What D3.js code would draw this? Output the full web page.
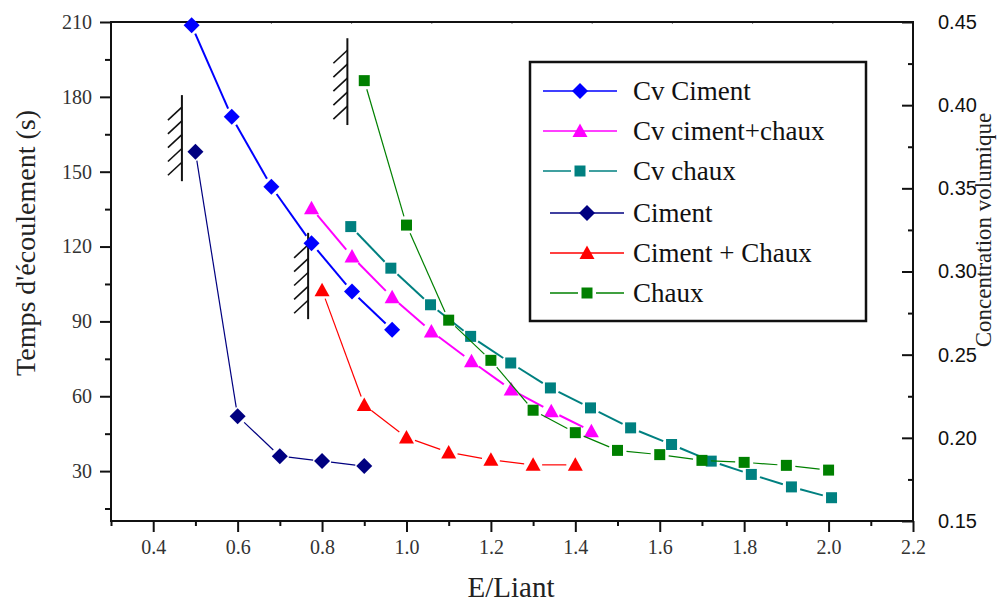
<!DOCTYPE html>
<html>
<head>
<meta charset="utf-8">
<script src="https://cdn.jsdelivr.net/npm/d3@7"></script>
<style>
  body { margin: 0; background: #fff; }
</style>
</head>
<body>
<div id="chart"></div>
<script>
// values
// Cv series use the right axis (concentration volumique)
var cvCimentX = [0.491, 0.586, 0.680, 0.775, 0.871, 0.966];
var cvCimentY = [0.448, 0.393, 0.351, 0.317, 0.288, 0.265];

var cvCimentChauxX = [0.775, 0.871, 0.966, 1.059, 1.154, 1.248, 1.343, 1.438];
var cvCimentChauxY = [0.338, 0.309, 0.2845, 0.264, 0.246, 0.229, 0.216, 0.204];

var cvChauxX = [0.868, 0.963, 1.057, 1.152, 1.247, 1.341, 1.436, 1.531, 1.628, 1.722, 1.817, 1.912, 2.007];
var cvChauxY = [0.327, 0.302, 0.280, 0.261, 0.245, 0.230, 0.218, 0.206, 0.196, 0.186, 0.178, 0.1705, 0.164];

// left axis series (temps d'écoulement)
var cimentX = [0.5, 0.6, 0.7, 0.8, 0.9];
var cimentY = [158, 52, 36, 34, 32];

var cimentChauxX = [0.8, 0.9, 1.0, 1.1, 1.2, 1.3, 1.4];
var cimentChauxY = [102.5, 56.5, 43.5, 37.5, 34.5, 32.5, 32.5];

var chauxX = [0.9, 1.0, 1.1, 1.2, 1.3, 1.4, 1.5, 1.6, 1.7, 1.8, 1.9, 2.0];
var chauxY = [186.5, 128.6, 90.5, 74.4, 54.4, 45.4, 38.3, 36.6, 34.3, 33.5, 32.3, 30.4];

// hatched "limit" marks (x, top, bottom on left axis)
var hatchX = [0.468, 0.860, 0.767];
var hatchTop = [180.7, 203.5, 125.5];
var hatchBottom = [146.2, 168.7, 90.9];

var xTicks = [0.4, 0.6, 0.8, 1.0, 1.2, 1.4, 1.6, 1.8, 2.0, 2.2];
var leftTicks = [30, 60, 90, 120, 150, 180, 210];
var rightTicks = [0.15, 0.20, 0.25, 0.30, 0.35, 0.40, 0.45];

var serif = "'Liberation Serif', 'Times New Roman', serif";
var sans = "'Liberation Sans', Arial, sans-serif";

var svgWidth = 997;
var svgHeight = 603;
var margin = { top: 22, right: 84, bottom: 82, left: 111 };
var width = svgWidth - margin.left - margin.right;
var height = svgHeight - margin.top - margin.bottom;

var svg = d3.select("#chart")
  .append("svg")
  .attr("width", svgWidth)
  .attr("height", svgHeight);

var chartGroup = svg.append("g")
  .attr("transform", `translate(${margin.left}, ${margin.top})`);

var xScale = d3.scaleLinear().domain([0.3, 2.2]).range([0, width]);
var yLeft = d3.scaleLinear().domain([10, 210]).range([height, 0]);
var yRight = d3.scaleLinear().domain([0.15, 0.45]).range([height, 0]);

// series definitions
var series = [
  { name: "Cv Ciment", xs: cvCimentX, ys: cvCimentY, y: yRight, color: "#0000ff", shape: "diamond", lw: 2 },
  { name: "Cv ciment+chaux", xs: cvCimentChauxX, ys: cvCimentChauxY, y: yRight, color: "#ff00ff", shape: "triangle", lw: 2 },
  { name: "Cv chaux", xs: cvChauxX, ys: cvChauxY, y: yRight, color: "#008080", shape: "square", lw: 2 },
  { name: "Ciment", xs: cimentX, ys: cimentY, y: yLeft, color: "#000080", shape: "diamond", lw: 1.2 },
  { name: "Ciment + Chaux", xs: cimentChauxX, ys: cimentChauxY, y: yLeft, color: "#ff0000", shape: "triangle", lw: 1.2 },
  { name: "Chaux", xs: chauxX, ys: chauxY, y: yLeft, color: "#008000", shape: "square", lw: 1.2 }
];

function markerPath(shape) {
  if (shape === "diamond") return "M0,-8L8,0L0,8L-8,0Z";
  if (shape === "triangle") return "M0,-7.5L7.5,6L-7.5,6Z";
  return "M-5.5,-5.5L5.5,-5.5L5.5,5.5L-5.5,5.5Z";
}

// axes
var bottomAxis = d3.axisBottom(xScale).tickValues(xTicks).tickFormat(d3.format(".1f")).tickSize(11).tickPadding(8);
var bottomMinor = d3.axisBottom(xScale).tickValues(d3.range(0.3, 2.25, 0.2)).tickFormat("").tickSize(5);
var leftAxis = d3.axisLeft(yLeft).tickValues(leftTicks).tickSize(11).tickPadding(8);
var leftMinor = d3.axisLeft(yLeft).tickValues(d3.range(15, 210, 30)).tickFormat("").tickSize(6);
var rightAxis = d3.axisRight(yRight).tickValues(rightTicks).tickFormat(d3.format(".2f")).tickSize(-11).tickPadding(25);
var rightMinor = d3.axisRight(yRight).tickValues(d3.range(0.175, 0.45, 0.05)).tickFormat("").tickSize(-5);

function styleAxis(g) {
  g.select(".domain").remove();
  g.selectAll("line").attr("stroke", "#111").attr("stroke-width", 2);
}

chartGroup.append("g").attr("transform", `translate(0, ${height})`).call(bottomMinor).call(styleAxis);
chartGroup.append("g").attr("transform", `translate(0, ${height})`).call(bottomAxis).call(styleAxis)
  .attr("font-family", serif)
  .selectAll("text").attr("font-size", 20).attr("fill", "#333");
chartGroup.append("g").call(leftMinor).call(styleAxis);
chartGroup.append("g").call(leftAxis).call(styleAxis)
  .attr("font-family", serif)
  .selectAll("text").attr("font-size", 20).attr("fill", "#333");
chartGroup.append("g").attr("transform", `translate(${width}, 0)`).call(rightMinor).call(styleAxis);
chartGroup.append("g").attr("transform", `translate(${width}, 0)`).call(rightAxis).call(styleAxis)
  .attr("font-family", sans)
  .selectAll("text").attr("font-size", 20).attr("fill", "#111");

// faint top ticks
var topScale = d3.scaleLinear().domain([0, 10]).range([0, width]);
chartGroup.selectAll("line.toptick")
  .data(d3.range(1, 10))
  .enter()
  .append("line")
  .attr("x1", d => topScale(d)).attr("x2", d => topScale(d))
  .attr("y1", 0).attr("y2", 2)
  .attr("stroke", "#888").attr("stroke-width", 1);

// frame
chartGroup.append("rect")
  .attr("x", 0).attr("y", 0)
  .attr("width", width).attr("height", height)
  .attr("fill", "none")
  .attr("stroke", "#111")
  .attr("stroke-width", 2);

// hatches
hatchX.forEach(function(hx, i) {
  var px = xScale(hx);
  var top = yLeft(hatchTop[i]);
  var bot = yLeft(hatchBottom[i]);
  var g = chartGroup.append("g").attr("stroke", "#111");
  g.append("line").attr("x1", px).attr("x2", px).attr("y1", top).attr("y2", bot).attr("stroke-width", 2);
  var step = (bot - top - 24) / 4.5;
  for (var k = 0; k < 5; k++) {
    var sy = top + 12 + k * step;
    g.append("line")
      .attr("x1", px).attr("y1", sy)
      .attr("x2", px - 14).attr("y2", sy + 13)
      .attr("stroke-width", 1.6);
  }
});

// lines with a gap at each symbol
var gap = 9;
series.forEach(function(s) {
  var pts = s.xs.map((x, i) => [xScale(x), s.y(s.ys[i])]);
  var g = chartGroup.append("g");
  for (var i = 0; i < pts.length - 1; i++) {
    var a = pts[i], b = pts[i + 1];
    var dx = b[0] - a[0], dy = b[1] - a[1];
    var len = Math.sqrt(dx * dx + dy * dy);
    if (len <= 2 * gap) continue;
    var ux = dx / len, uy = dy / len;
    g.append("line")
      .attr("x1", a[0] + ux * gap).attr("y1", a[1] + uy * gap)
      .attr("x2", b[0] - ux * gap).attr("y2", b[1] - uy * gap)
      .attr("stroke", s.color)
      .attr("stroke-width", s.lw);
  }
  g.selectAll("path")
    .data(pts)
    .enter()
    .append("path")
    .attr("d", markerPath(s.shape))
    .attr("transform", d => `translate(${d[0]}, ${d[1]})`)
    .attr("fill", s.color);
});

// legend
var legend = svg.append("g");
legend.append("rect")
  .attr("x", 530).attr("y", 62)
  .attr("width", 336).attr("height", 259)
  .attr("fill", "#fff")
  .attr("stroke", "#111")
  .attr("stroke-width", 2.5);

var rowY = [91, 131, 171, 213, 253, 293];
series.forEach(function(s, i) {
  var cx = i < 3 ? 580 : 587;
  var x0 = cx - 37, x1 = cx + 37;
  var lg = s.shape === "square" ? 9 : 0;
  var row = legend.append("g");
  row.append("line").attr("x1", x0).attr("x2", cx - lg).attr("y1", rowY[i]).attr("y2", rowY[i])
    .attr("stroke", s.color).attr("stroke-width", 1.5);
  row.append("line").attr("x1", cx + lg).attr("x2", x1).attr("y1", rowY[i]).attr("y2", rowY[i])
    .attr("stroke", s.color).attr("stroke-width", 1.5);
  row.append("path")
    .attr("d", markerPath(s.shape))
    .attr("transform", `translate(${cx}, ${rowY[i]})`)
    .attr("fill", s.color);
  row.append("text")
    .attr("x", 633).attr("y", rowY[i] + 9)
    .attr("font-family", serif)
    .attr("font-size", 27)
    .attr("fill", "#111")
    .text(s.name);
});

// axis titles
svg.append("text")
  .attr("x", 511).attr("y", 597)
  .attr("text-anchor", "middle")
  .attr("font-family", serif)
  .attr("font-size", 29)
  .attr("fill", "#222")
  .text("E/Liant");

svg.append("text")
  .attr("transform", "translate(35, 243) rotate(-90)")
  .attr("text-anchor", "middle")
  .attr("font-family", serif)
  .attr("font-size", 28)
  .attr("fill", "#222")
  .text("Temps d'écoulement (s)");

svg.append("text")
  .attr("transform", "translate(991, 230) rotate(-90)")
  .attr("text-anchor", "middle")
  .attr("font-family", serif)
  .attr("font-size", 23)
  .attr("fill", "#222")
  .text("Concentration volumique");
</script>
</body>
</html>
